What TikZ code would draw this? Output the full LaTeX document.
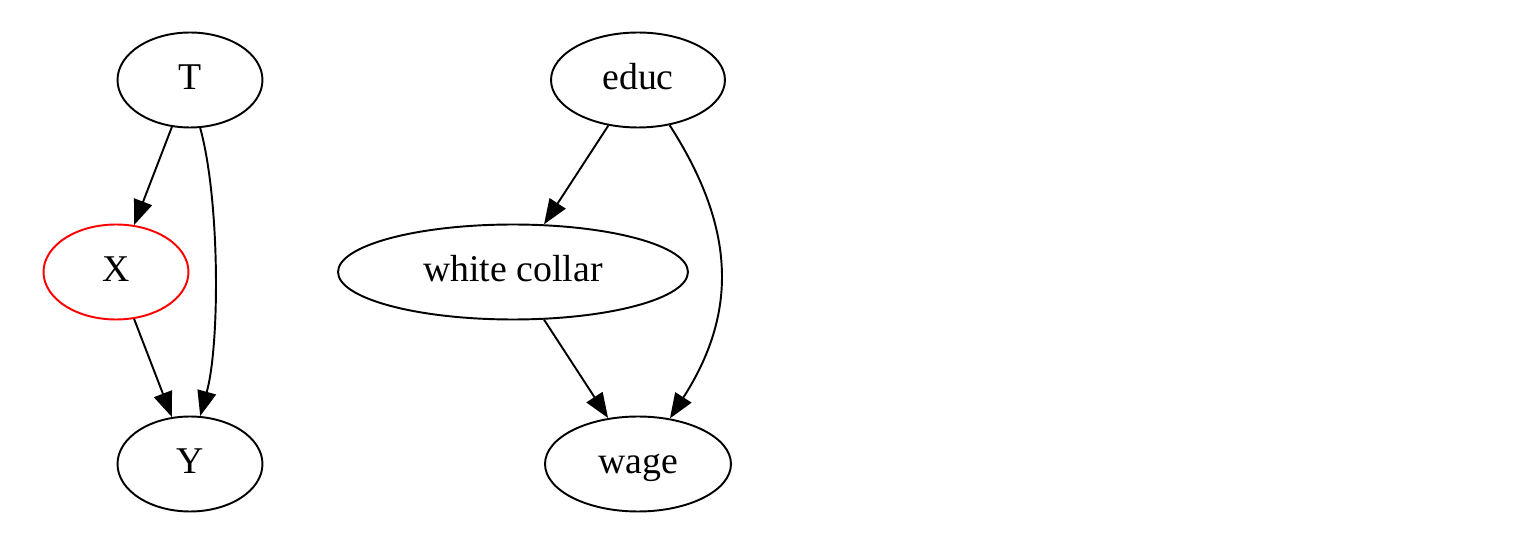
\documentclass[tikz,border=0pt]{standalone}
\usepackage{fontspec}
\setmainfont{Liberation Serif}
\usetikzlibrary{arrows.meta, shapes.geometric}

\begin{document}
\begin{tikzpicture}[x=0.02cm, y=-0.02cm,
  font=\fontsize{21.5}{25}\selectfont,
  vr/.style={ellipse, draw=black, line width=1.1pt, inner sep=0pt, minimum height=1.9cm,
             text height=15pt, text depth=4.3pt},
  ed/.style={-{Triangle[length=0.5cm, width=0.38cm]}, line width=1.1pt, black}]
\useasboundingbox (0,0) rectangle (1526,540);
% left graph
\node[vr, minimum width=2.9cm] (T) at (190,80) {T};
\node[vr, draw=red, minimum width=2.9cm] (X) at (116,272) {X};
\node[vr, minimum width=2.9cm] (Y) at (190,464) {Y};
\draw[ed] (T) -- (X);
\draw[ed] (X) -- (Y);
\draw[ed] (T.-78) .. controls (220,200) and (220,344) .. (Y.78);
% right graph
\node[vr, minimum width=3.48cm] (educ) at (638,80) {educ};
\node[vr, minimum width=7cm] (wc) at (513,272) {white collar};
\node[vr, minimum width=3.72cm] (wage) at (638,464) {wage};
\draw[ed] (educ) -- (wc);
\draw[ed] (wc) -- (wage);
\draw[ed] (educ.-55) .. controls (737,230) and (737,314) .. (wage.55);
\end{tikzpicture}
\end{document}
